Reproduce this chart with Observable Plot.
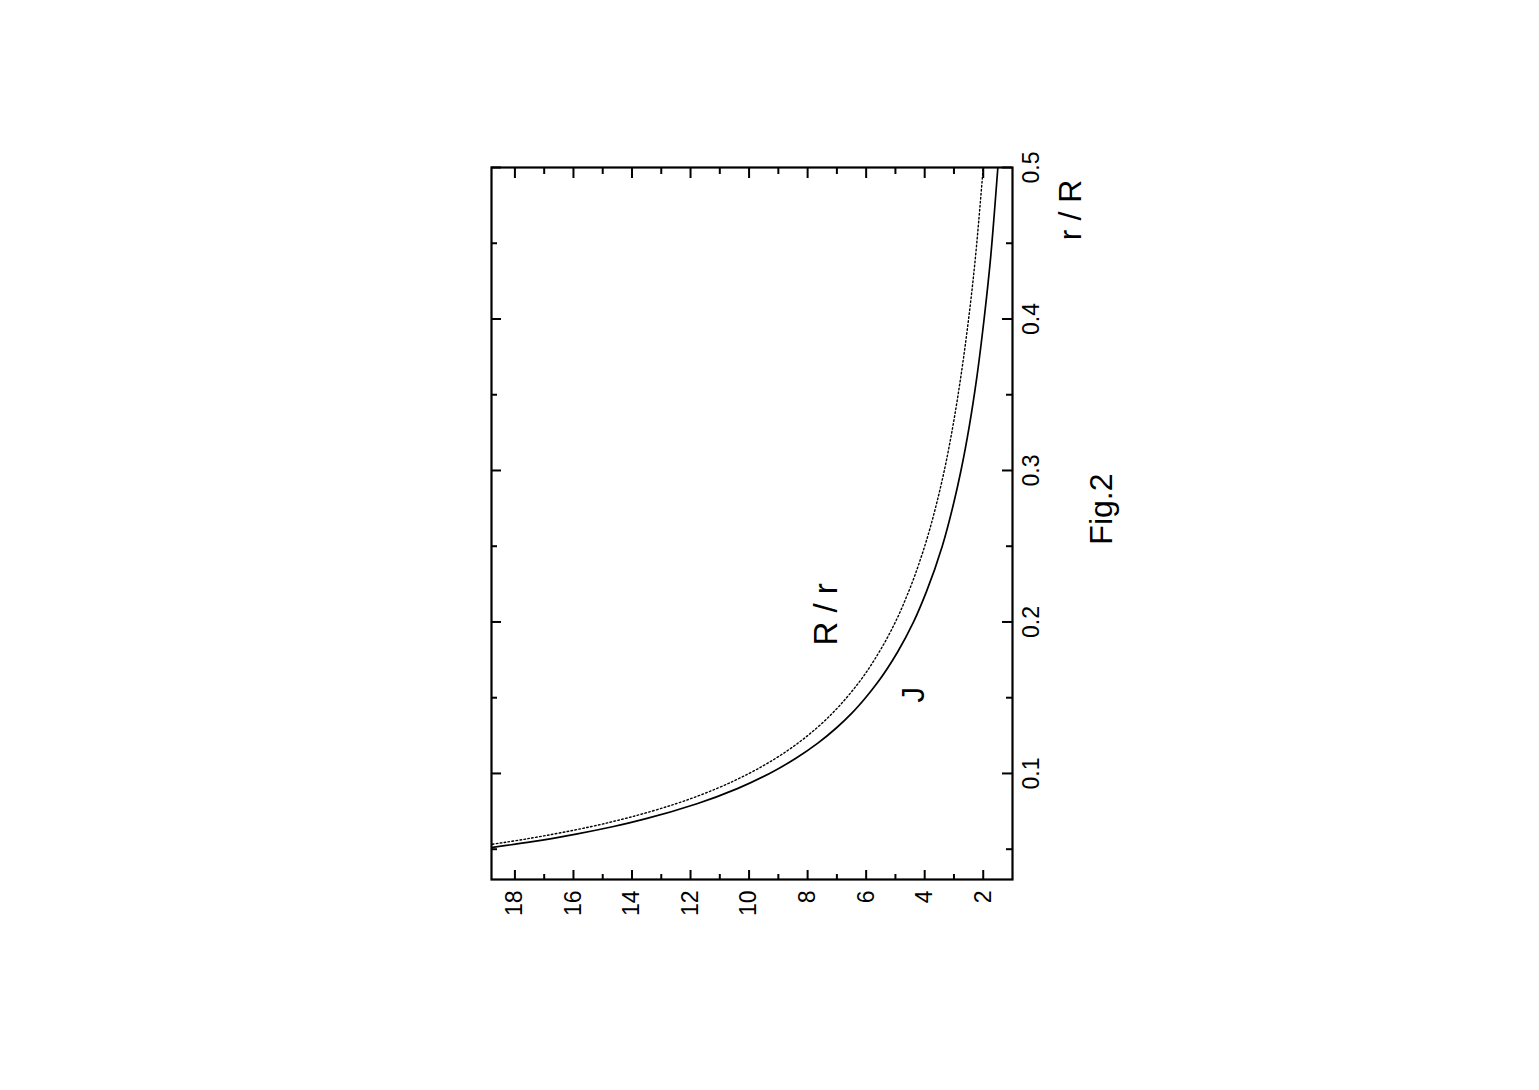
<!DOCTYPE html>
<html>
<head>
<meta charset="utf-8">
<script src="https://cdn.jsdelivr.net/npm/d3@7"></script>
<script src="https://cdn.jsdelivr.net/npm/@observablehq/plot@0.6"></script>
<style>
  html, body { margin: 0; padding: 0; background: #fff; }
  #wrap { position: absolute; left: 0; top: 0; width: 802px; transform-origin: 0 0;
          transform: translate(471px, 950px) rotate(-90deg); }
</style>
</head>
<body>
<div id="wrap"></div>
<script>
// r / R values
const rOverR = [0.05, 0.055, 0.06, 0.065, 0.07, 0.08, 0.09, 0.1, 0.11, 0.12, 0.13, 0.14, 0.15, 0.16, 0.18, 0.2, 0.22, 0.25, 0.28, 0.3, 0.33, 0.36, 0.4, 0.44, 0.47, 0.5];
// R / r curve (dotted)
const bigROverR = [20, 18.18, 16.67, 15.38, 14.29, 12.5, 11.11, 10, 9.09, 8.33, 7.69, 7.14, 6.67, 6.25, 5.56, 5.0, 4.55, 4.0, 3.57, 3.33, 3.03, 2.78, 2.5, 2.27, 2.13, 2.0];
// J curve (solid)
const jValues = [19.2, 17.40, 15.91, 14.63, 13.55, 11.78, 10.40, 9.30, 8.40, 7.65, 7.02, 6.48, 6.02, 5.61, 4.93, 4.38, 3.94, 3.40, 2.99, 2.76, 2.47, 2.23, 1.97, 1.75, 1.62, 1.50];

const xMajorTicks = [0.1, 0.2, 0.3, 0.4, 0.5];
const xMinorTicks = [0.05, 0.15, 0.25, 0.35, 0.45];
const yMajorTicks = [2, 4, 6, 8, 10, 12, 14, 16, 18];
const yMinorTicks = [3, 5, 7, 9, 11, 13, 15, 17];

const xTitle = "r / R";
const figTitle = "Fig.2";
const labelRr = "R / r";
const labelJ = "J";

const dotted = rOverR.map((x, i) => ({x, y: bigROverR[i]}));
const solid = rOverR.map((x, i) => ({x, y: jValues[i]}));

const mL = 70, mR = 20, mT = 20, mB = 110;
const W = 802, H = 651;
const innerW = W - mL - mR, innerH = H - mT - mB;
const major = 10, minor = 6;

const font = "'Liberation Sans', Arial, Helvetica, sans-serif";
const tickFont = "'Liberation Sans Narrow', 'Arial Narrow', 'Liberation Sans', sans-serif";

const chart = Plot.plot({
  width: W, height: H,
  marginLeft: mL, marginRight: mR, marginTop: mT, marginBottom: mB,
  style: {fontFamily: font, fontSize: "19px", background: "transparent", overflow: "visible", color: "#000"},
  x: {domain: [0.03, 0.5]},
  y: {domain: [1, 18.8]},
  marks: [
    Plot.line(dotted, {x: "x", y: "y", stroke: "#000", strokeWidth: 1.4, strokeDasharray: "1.6,2.4", curve: "monotone-x", clip: true}),
    Plot.line(solid, {x: "x", y: "y", stroke: "#000", strokeWidth: 1.7, curve: "monotone-x", clip: true}),
    // inward ticks on all four sides
    Plot.ruleX(xMajorTicks, {x: d => d, insetTop: innerH - major, stroke: "#000", strokeWidth: 2}),
    Plot.ruleX(xMajorTicks, {x: d => d, insetBottom: innerH - major, stroke: "#000", strokeWidth: 2}),
    Plot.ruleX(xMinorTicks, {x: d => d, insetTop: innerH - minor, stroke: "#000", strokeWidth: 2}),
    Plot.ruleX(xMinorTicks, {x: d => d, insetBottom: innerH - minor, stroke: "#000", strokeWidth: 2}),
    Plot.ruleY(yMajorTicks, {y: d => d, insetRight: innerW - major, stroke: "#000", strokeWidth: 2}),
    Plot.ruleY(yMajorTicks, {y: d => d, insetLeft: innerW - major, stroke: "#000", strokeWidth: 2}),
    Plot.ruleY(yMinorTicks, {y: d => d, insetRight: innerW - minor, stroke: "#000", strokeWidth: 2}),
    Plot.ruleY(yMinorTicks, {y: d => d, insetLeft: innerW - minor, stroke: "#000", strokeWidth: 2}),
    Plot.axisX({ticks: xMajorTicks, tickSize: 0, tickPadding: 10, label: null, tickFormat: d3.format(".1f"), fontSize: 23, fontFamily: tickFont}),
    Plot.axisY({ticks: yMajorTicks, tickSize: 0, tickPadding: 11, label: null, fontSize: 23, fontFamily: tickFont}),
    Plot.frame({stroke: "#000", strokeWidth: 2.2}),
    Plot.text([labelRr], {x: 0.205, y: 7.34, text: d => d, fontSize: 33, fill: "#000"}),
    Plot.text([labelJ], {x: 0.152, y: 4.37, text: d => d, fontSize: 32, fill: "#000"}),
    Plot.text([xTitle], {x: 0.472, frameAnchor: "bottom", dy: 68, text: d => d, fontSize: 32, fill: "#000"}),
    Plot.text([figTitle], {x: 0.2745, frameAnchor: "bottom", dy: 99, text: d => d, fontSize: 32, fill: "#000"})
  ]
});
// make sure the tick labels get the intended size and face
chart.querySelectorAll('g[aria-label$="tick label"]').forEach(g => {
  g.setAttribute("font-size", "23");
  g.setAttribute("font-family", tickFont);
  g.querySelectorAll("text").forEach(t => { t.style.fontSize = "23px"; t.style.fontFamily = tickFont; });
});
document.getElementById("wrap").appendChild(chart);
</script>
</body>
</html>
